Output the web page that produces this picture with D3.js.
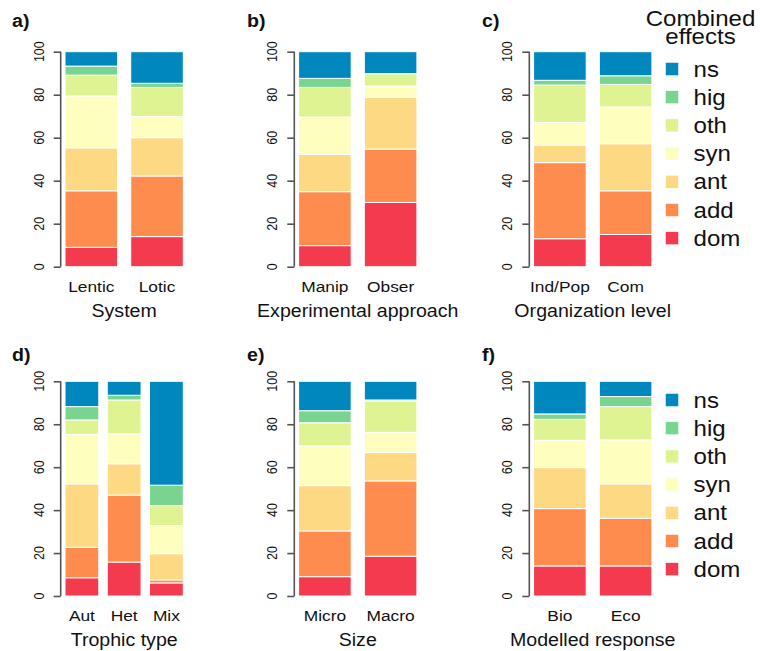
<!DOCTYPE html>
<html>
<head>
<meta charset="utf-8">
<script src="https://cdn.jsdelivr.net/npm/d3@7"></script>
<style>
  html, body { margin: 0; padding: 0; background: #fff; }
  svg { display: block; font-family: "Liberation Sans", Arial, Helvetica, sans-serif; }
</style>
</head>
<body>
<svg id="chart" width="760" height="651"></svg>
<script>
// ---- data ----
const effects = ["dom", "add", "ant", "syn", "oth", "hig", "ns"];
const effectColors = ["#F43A4E", "#FD8C4E", "#FED983", "#FEFEBE", "#E0F392", "#78D48E", "#0087BD"];
const yTicks = [0, 20, 40, 60, 80, 100];

const systemCats = ["Lentic", "Lotic"];
const systemVals = [[9, 26.3, 20, 24.1, 9.7, 4.2, 6.7], [14, 28.2, 17.8, 9.9, 13.5, 1.9, 14.7]];

const approachCats = ["Manip", "Obser"];
const approachVals = [[9.8, 25.1, 17.3, 17.4, 13.8, 4.2, 12.4], [29.9, 24.8, 24.1, 5.2, 5.8, 0, 10.2]];

const levelCats = ["Ind/Pop", "Com"];
const levelVals = [[13, 35.4, 8.2, 10.5, 17.4, 2.2, 13.3], [15, 20.3, 21.9, 17.1, 10.5, 4, 11.2]];

const trophicCats = ["Aut", "Het", "Mix"];
const trophicVals = [[8.5, 14.2, 29.5, 23.1, 6.7, 6.2, 11.8], [15.8, 31.2, 14.6, 13.9, 15.8, 2.2, 6.5], [6.1, 1.4, 12.2, 13.1, 9.3, 9.5, 48.4]];

const sizeCats = ["Micro", "Macro"];
const sizeVals = [[9, 21.3, 21.1, 18.5, 10.8, 5.6, 13.7], [18.5, 35.1, 13.2, 9.4, 14.5, 0.6, 8.7]];

const responseCats = ["Bio", "Eco"];
const responseVals = [[14, 26.7, 19.1, 12.7, 9.8, 2.5, 15.2], [14, 22.2, 16, 20.5, 15.5, 4.7, 7.1]];

const panelLabels = ["a)", "b)", "c)", "d)", "e)", "f)"];
const panelTitles = ["System", "Experimental approach", "Organization level", "Trophic type", "Size", "Modelled response"];
const legendTitle = ["Combined", "effects"];

// ---- layout ----
const svg = d3.select("#chart");
const SX = 1.12; // horizontal text stretch of the reference
const colX = [0, 233.6, 468.6];
const rowY = [{ top: 51.7, bottom: 266.7, lab: 27, cat: 291.5, title: 317 },
              { top: 381.3, bottom: 596, lab: 361, cat: 621, title: 646 }];
const panels = [
  [systemCats, systemVals], [approachCats, approachVals], [levelCats, levelVals],
  [trophicCats, trophicVals], [sizeCats, sizeVals], [responseCats, responseVals]
];
const color = d3.scaleOrdinal().domain(effects).range(effectColors);

function txt(g, x, y, s, size, opts = {}) {
  const t = g.append("text")
    .attr("transform", `translate(${x},${y}) scale(${SX},1)` + (opts.rot ? " rotate(-90)" : ""))
    .attr("text-anchor", opts.anchor || "middle")
    .attr("font-size", size)
    .attr("font-weight", opts.bold ? "bold" : "normal")
    .attr("fill", "#111")
    .text(s);
  return t;
}

panels.forEach(([cats, vals], i) => {
  const r = rowY[Math.floor(i / 3)];
  const ox = colX[i % 3];
  const g = svg.append("g");
  const axisX = 60.7 + ox;

  const y = d3.scaleLinear().domain([0, 100]).range([r.bottom, r.top]);
  const x = d3.scaleBand().domain(cats).range([65 + ox, 183.3 + ox]).paddingInner(0.2).paddingOuter(0);

  const table = cats.map((c, k) => {
    const o = { cat: c };
    effects.forEach((e, j) => o[e] = vals[k][j]);
    return o;
  });
  const series = d3.stack().keys(effects)(table);

  g.selectAll("g.s").data(series).join("g")
    .attr("fill", d => color(d.key))
    .selectAll("rect").data(d => d.filter(p => p[1] - p[0] > 0)).join("rect")
    .attr("x", d => x(d.data.cat))
    .attr("width", x.bandwidth())
    .attr("y", d => y(d[1]))
    .attr("height", d => y(d[0]) - y(d[1]))
    .attr("stroke", "#fff")
    .attr("stroke-width", 1);

  // y axis
  const ax = g.append("g").attr("transform", `translate(${axisX},0)`)
    .call(d3.axisLeft(y).tickValues(yTicks).tickSize(7).tickFormat(""));
  ax.select(".domain").attr("d", `M0,${y(0)}V${y(100)}`).attr("stroke", "#555").attr("stroke-width", 1.6);
  ax.selectAll(".tick line").attr("stroke", "#555").attr("stroke-width", 1.6);
  yTicks.forEach(t => txt(g, axisX - 17, y(t), String(t), 12.5, { rot: true }));

  // category labels
  cats.forEach(c => txt(g, x(c) + x.bandwidth() / 2, r.cat, c, 15.5));
  // axis title
  txt(g, (65 + 183.3) / 2 + ox, r.title, panelTitles[i], 17.5);
  // panel label
  txt(g, [12, 247, 482][i % 3], r.lab, panelLabels[i], 17.5, { bold: true, anchor: "start" });
});

// legends
function legend(topCenter, withTitle) {
  const g = svg.append("g");
  const step = 28.2;
  const order = effects.slice().reverse();
  if (withTitle) {
    txt(g, 700.5, 25.5, legendTitle[0], 21.5);
    txt(g, 700.5, 44, legendTitle[1], 21.5);
  }
  order.forEach((e, k) => {
    const cy = topCenter + k * step;
    g.append("rect").attr("x", 665.5).attr("y", cy - 6.5).attr("width", 13).attr("height", 13)
      .attr("fill", color(e)).attr("stroke", "#fff").attr("stroke-width", 0.5);
    txt(g, 693.5, cy + 7.5, e, 21.5, { anchor: "start" });
  });
}
legend(69, true);
legend(400, false);
</script>
</body>
</html>
